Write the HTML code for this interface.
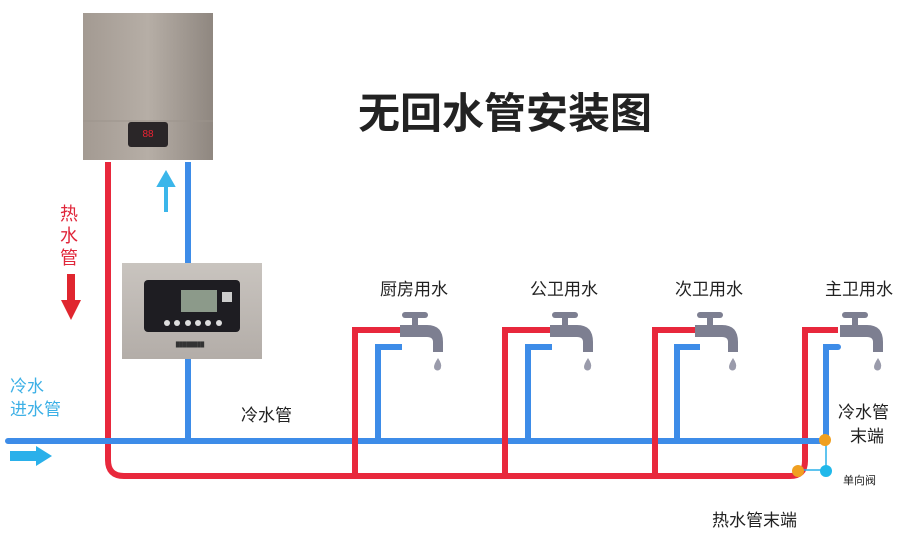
<!DOCTYPE html>
<html><head><meta charset="utf-8"><style>
html,body{margin:0;padding:0;background:#fff;width:920px;height:554px;overflow:hidden}
svg text{font-family:"Liberation Sans","Noto Sans CJK SC",sans-serif}
</style></head><body>
<svg width="920" height="554" viewBox="0 0 920 554" xmlns="http://www.w3.org/2000/svg">
<defs>
<linearGradient id="hg" x1="0" x2="1"><stop offset="0" stop-color="#a39a92"/><stop offset="0.5" stop-color="#b6aea6"/><stop offset="1" stop-color="#8f8780"/></linearGradient>
<linearGradient id="cg" x1="0" x2="0" y1="0" y2="1"><stop offset="0" stop-color="#c9c4bf"/><stop offset="1" stop-color="#b3ada8"/></linearGradient>
<g id="faucet" fill="#7d7f91">
<rect x="-3" y="-18" width="26" height="6" rx="3"/>
<rect x="7" y="-14" width="6" height="10"/>
<path d="M-5 -5 H22 Q38 -5 38 12 V22 H28 V12 Q28 7 22 7 H-5 Z"/>
<path d="M33 28 Q37 34 36 37 A3.5 3.5 0 0 1 29 37 Q29 34 33 28Z" fill="#9a9bab"/>
</g>
</defs>
<text x="505" y="128" font-size="42" font-weight="bold" text-anchor="middle" fill="#222">无回水管安装图</text>
<rect x="83" y="13" width="130" height="147" fill="url(#hg)"/>
<line x1="83" y1="121" x2="213" y2="121" stroke="#9c948c"/>
<rect x="128" y="122" width="40" height="25" rx="3" fill="#2a2628"/>
<text x="148" y="137" font-size="10" fill="#e23" text-anchor="middle">88</text>
<path d="M108 162 V460 Q108 476 124 476 H790 Q805 476 805 461 V330 H838" fill="none" stroke="#e8283c" stroke-width="6"/>
<path d="M8 441 H826 V347 H838" fill="none" stroke="#3d8ce8" stroke-width="6" stroke-linecap="round"/>
<line x1="188" y1="162" x2="188" y2="441" stroke="#3d8ce8" stroke-width="6"/>
<g fill="none" stroke-width="6">
<path d="M355 476 V330 H402" stroke="#e8283c"/><path d="M378 441 V347 H402" stroke="#3d8ce8"/>
<path d="M505 476 V330 H552" stroke="#e8283c"/><path d="M528 441 V347 H552" stroke="#3d8ce8"/>
<path d="M655 476 V330 H700" stroke="#e8283c"/><path d="M677 441 V347 H700" stroke="#3d8ce8"/>
</g>
<use href="#faucet" x="405" y="330"/>
<use href="#faucet" x="555" y="330"/>
<use href="#faucet" x="700" y="330"/>
<use href="#faucet" x="845" y="330"/>
<rect x="122" y="263" width="140" height="96" fill="url(#cg)"/>
<rect x="144" y="280" width="96" height="52" rx="4" fill="#1e1d22"/>
<rect x="181" y="290" width="36" height="22" fill="#8c9a8a"/>
<rect x="222" y="292" width="10" height="10" fill="#ccc"/>
<g fill="#ddd"><circle cx="167" cy="323" r="3"/><circle cx="177" cy="323" r="3"/><circle cx="188" cy="323" r="3"/><circle cx="198" cy="323" r="3"/><circle cx="208" cy="323" r="3"/><circle cx="219" cy="323" r="3"/></g>
<text x="190" y="346" font-size="5" fill="#333" text-anchor="middle">████████</text>
<path d="M165 212 V186 H158 L166 172 L174 186 H167 V212" fill="#3bb6ea" stroke="#3bb6ea" stroke-width="2"/>
<path d="M67 274 H75 V300 H81 L71 320 L61 300 H67Z" fill="#e0262f"/>
<path d="M10 451 H36 V446 L52 456 L36 466 V461 H10Z" fill="#2ab0ea"/>
<path d="M826 441 V470 H799" fill="none" stroke="#2ab0ea" stroke-width="1.5"/>
<circle cx="825" cy="440" r="6" fill="#f0a020"/>
<circle cx="798" cy="471" r="6" fill="#f0a020"/>
<circle cx="826" cy="471" r="6" fill="#20b8ea"/>
<g font-size="17" fill="#222">
<text x="380" y="295">厨房用水</text>
<text x="530" y="295">公卫用水</text>
<text x="675" y="295">次卫用水</text>
<text x="825" y="295">主卫用水</text>
<text x="241" y="421">冷水管</text>
<text x="838" y="418">冷水管</text>
<text x="850" y="442">末端</text>
<text x="712" y="526">热水管末端</text>
</g>
<text x="843" y="484" font-size="11" fill="#222">单向阀</text>
<g font-size="17" fill="#3cb0e6"><text x="10" y="392">冷水</text><text x="10" y="415">进水管</text></g>
<g font-size="18" fill="#e0263a"><text x="60" y="220">热</text><text x="60" y="242">水</text><text x="60" y="264">管</text></g>
</svg>
</body></html>
